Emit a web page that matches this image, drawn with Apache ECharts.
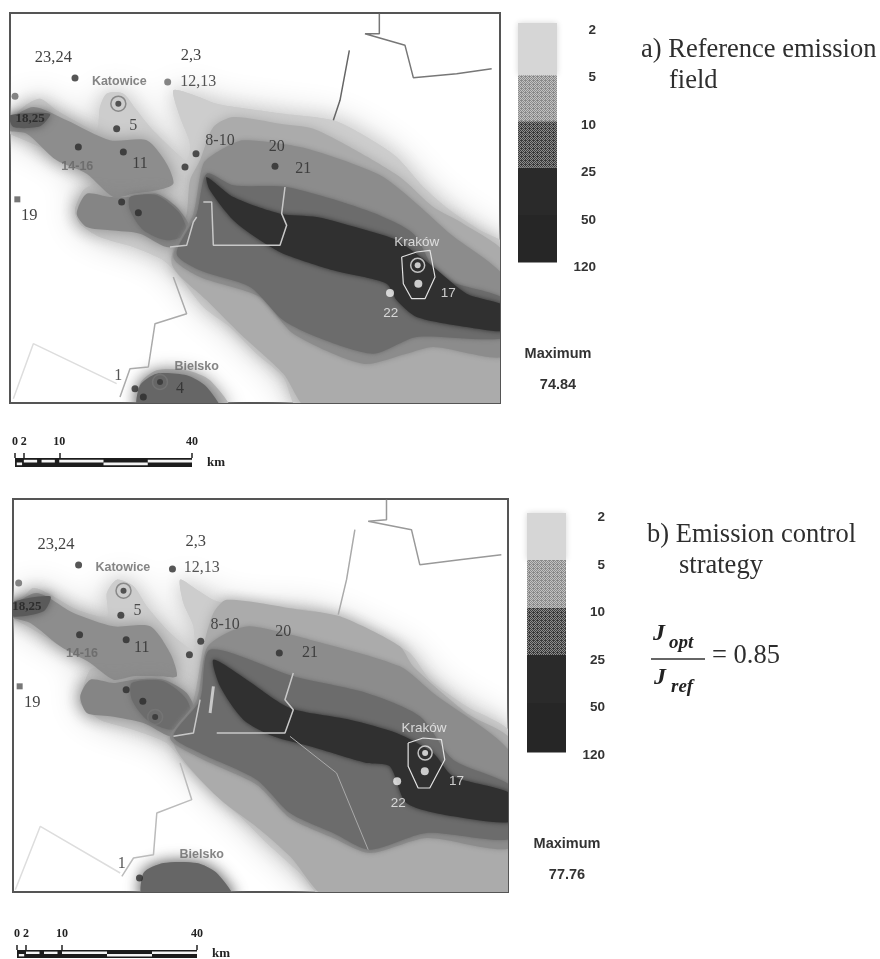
<!DOCTYPE html>
<html><head><meta charset="utf-8">
<style>html,body{margin:0;padding:0;background:#fff}#c{width:880px;height:959px;filter:blur(0.6px)}</style>
<script src="https://cdn.jsdelivr.net/npm/echarts@6/dist/echarts.min.js"></script>
</head><body><div id="c"></div>
<script>
// ---------- DATA (map units) ----------
const legendTicks = ['2','5','10','25','50','120'];
const scaleTicks = [0,2,10,40];
const titleA = 'a) Reference emission', titleA2 = 'field';
const titleB = 'b) Emission control', titleB2 = 'strategy';
const maxA = '74.84', maxB = '77.76', ratioValue = '= 0.85';

// contour bands, panel a
const a_outer = [[20,378],[70,320],[120,295],[170,330],[240,370],[290,390],[300,320],[320,280],[370,280],[410,330],[450,380],[510,440],[560,480],[570,430],[540,350],[520,270],[570,280],[650,310],[740,325],[850,340],[1000,360],[1100,410],[1190,470],[1270,560],[1350,630],[1440,690],[1520,740],[1520,1230],[900,1230],[850,1130],[770,1060],[690,980],[610,920],[540,830],[490,780],[400,740],[300,710],[240,670],[225,630],[250,570],[290,540],[200,490],[120,440],[20,395]];
const a_blobBase = [[420,1230],[420,1150],[470,1110],[560,1110],[630,1140],[690,1230]];
const a_band2 = [[600,480],[640,380],[700,350],[840,370],[940,385],[1050,440],[1200,530],[1300,620],[1390,670],[1520,770],[1520,1230],[930,1230],[850,1120],[720,1000],[620,900],[515,790],[560,640],[570,540]];
const a_band3 = [[610,490],[660,450],[730,420],[900,440],[1030,480],[1150,530],[1250,610],[1350,700],[1520,840],[1520,1065],[1300,1040],[1220,1060],[1090,1090],[880,1000],[780,890],[600,830],[520,770],[580,640]];
const a_band4 = [[620,520],[700,555],[860,560],[1100,630],[1240,700],[1320,830],[1520,900],[1520,1010],[1250,1010],[1120,1060],[950,1010],[850,960],[750,860],[600,810],[530,760],[590,640]];
const a_core = [[620,530],[700,590],[840,640],[950,650],[1100,690],[1190,720],[1300,800],[1400,880],[1520,920],[1520,990],[1400,980],[1250,950],[1190,900],[1160,850],[1000,810],[850,760],[780,720],[700,660],[630,570]];
const a_plume = [[20,365],[100,320],[200,360],[330,420],[440,420],[500,490],[520,550],[470,570],[400,580],[340,590],[260,520],[170,480],[80,400],[20,390]];
const a_lobe = [[230,640],[260,580],[330,590],[390,590],[470,580],[530,620],[570,680],[560,730],[500,740],[420,700],[330,690],[260,680]];
const a_lobeCore = [[390,590],[470,585],[540,640],[560,700],[500,720],[430,690],[390,630]];
const a_smudge = [[30,345],[150,340],[120,378],[40,380]];
const a_bielsko = [[415,1230],[420,1155],[470,1120],[560,1125],[620,1160],[660,1230]];

// contour bands, panel b
const b_outer = [[25,375],[70,350],[100,325],[150,345],[230,390],[320,410],[320,340],[350,300],[400,320],[440,380],[510,460],[580,510],[580,440],[550,370],[540,300],[590,330],[650,365],[760,385],[920,390],[1030,420],[1130,470],[1230,520],[1290,600],[1400,680],[1540,770],[1540,1260],[980,1260],[900,1180],[800,1090],[720,1010],[640,940],[560,860],[500,790],[400,750],[300,720],[240,670],[250,620],[270,570],[300,560],[200,510],[100,450],[25,405]];
const b_band2 = [[610,500],[640,400],[680,360],[900,390],[1020,410],[1200,500],[1240,560],[1400,700],[1540,790],[1540,1260],[990,1260],[870,1130],[780,1050],[650,950],[520,790],[580,660]];
const b_band3 = [[620,505],[680,460],[750,440],[930,480],[1200,560],[1300,640],[1540,830],[1540,1100],[1280,1075],[1110,1120],[1000,1075],[870,1015],[770,915],[600,835],[510,775],[590,660]];
const b_band4 = [[630,510],[880,590],[1100,640],[1260,710],[1360,840],[1540,925],[1540,1075],[1280,1060],[1110,1110],[1000,1060],[870,1000],[770,900],[600,820],[520,770],[600,660]];
const b_core = [[640,540],[740,600],[870,685],[1050,720],[1190,760],[1300,820],[1360,890],[1540,945],[1540,1025],[1360,1010],[1220,970],[1170,860],[1100,850],[930,800],[820,770],[730,720],[660,620]];
const b_plume = [[30,385],[110,340],[220,400],[340,440],[450,440],[510,520],[530,590],[480,590],[400,590],[340,600],[270,550],[180,500],[90,430],[30,410]];
const b_lobe = [[240,650],[270,600],[340,610],[400,600],[490,600],[560,640],[590,710],[570,760],[510,770],[430,730],[330,710],[260,700]];
const b_lobeCore = [[395,610],[490,605],[560,660],[575,730],[510,750],[440,720],[395,660]];
const b_smudge = [[30,370],[150,350],[130,395],[35,410]];
const b_bielsko = [[430,1260],[430,1180],[490,1150],[590,1150],[650,1180],[700,1260]];

// boundaries, panel a
const a_cityLine = [[510,740],[560,735],[580,665],[590,650]];
const a_cityLine2 = [[610,605],[635,605],[640,735],[840,735],[860,675],[845,640],[855,560]];
const a_borderTop = [[1138,40],[1138,100],[1095,100],[1215,135],[1240,232],[1370,220],[1475,205]];
const a_borderMid = [[1048,150],[1020,300],[1000,360]];
const a_borderLow = [[520,830],[560,940],[465,970],[445,1100],[390,1105],[360,1190]];
const a_borderLow2 = [[40,1195],[100,1030],[350,1150]];
const a_krakow = [[1205,770],[1210,850],[1235,895],[1275,895],[1305,830],[1290,750],[1250,755],[1205,770]];
// boundaries, panel b
const b_cityLine = [[520,770],[580,760],[600,660]];
const b_cityLine2 = [[650,760],[855,760],[880,690],[855,660],[880,580]];
const b_cityLine3 = [[640,620],[630,700]];
const b_borderTop = [[1160,60],[1160,120],[1105,125],[1235,150],[1260,255],[1380,240],[1505,225]];
const b_borderMid = [[1065,150],[1040,300],[1015,405]];
const b_borderLow = [[540,850],[575,960],[470,1000],[460,1125],[400,1135],[365,1190]];
const b_borderLow2 = [[45,1230],[120,1040],[360,1180]];
const b_krakowLine = [[870,770],[1010,880],[1105,1110]];
const b_krakow = [[1225,790],[1225,860],[1255,925],[1290,925],[1335,840],[1325,780],[1270,775],[1225,790]];

// sites
const a_darkSites = [[225,233],[350,385],[370,455],[235,440],[555,500],[588,460],[825,498],[365,605],[415,637],[405,1165],[430,1190]];
const a_greySites = [[503,245],[45,288]];
const a_squareSites = [[52,597]];
const a_ringSites = [[355,310],[480,1145]];
const a_whiteSites = [[1170,878],[1255,850]];
const a_whiteRings = [[1253,795]];
const b_darkSites = [[235,256],[517,268],[362,407],[378,480],[238,465],[568,525],[602,485],[838,520],[378,630],[428,665],[418,1195]];
const b_greySites = [[55,310]];
const b_squareSites = [[58,620]];
const b_ringSites = [[370,333],[465,712]];
const b_whiteSites = [[1192,905],[1275,875]];
const b_whiteRings = [[1276,820]];

// labels
const a_textDark = [['23,24',160,172],['2,3',573,165],['19',88,645]];
const a_textDark2 = [['12,13',595,243],['8-10',660,420],['20',830,438],['21',910,505],['5',400,375],['11',420,490],['1',355,1125],['4',540,1165]];
const a_textGrey = [['Katowice',358,243],['14-16',232,500],['Bielsko',590,1098]];
const a_textSmudge = [['18,25',90,355]];
const a_textWhite = [['Kraków',1250,725],['17',1345,880],['22',1172,940]];
const b_textDark = [['23,24',167,195],['2,3',587,187],['19',96,668]];
const b_textDark2 = [['12,13',605,265],['8-10',675,435],['20',850,457],['21',930,520],['5',412,393],['11',425,505],['1',365,1152]];
const b_textGrey = [['Katowice',368,263],['14-16',245,522],['Bielsko',605,1125]];
const b_textSmudge = [['18,25',80,380]];
const b_textWhite = [['Kraków',1273,745],['17',1370,905],['22',1195,970]];

// legend band edges on the tick scale
const legendA = [[-0.15,0.95],[0.95,1.92],[1.92,2.9],[2.9,3.9],[3.9,4.9]];
const legendB = [[-0.1,0.89],[0.89,1.9],[1.9,2.89],[2.89,3.9],[3.9,4.94]];

// scale bar stripes in km
const scaleBody = [[0,40,0,1]];
const scaleWhite = [[10,20,0.2,0.5],[30,40,0.2,0.5],[20,30,0.5,0.8],[2,5,0.2,0.5],[6,9,0.2,0.5],[0.4,1.6,0.5,0.8]];

// ---------- CHART ----------
function dither(fg,bg){
  const c=document.createElement('canvas');c.width=c.height=4;
  const x=c.getContext('2d');x.fillStyle=bg;x.fillRect(0,0,4,4);x.fillStyle=fg;
  [[0,0],[2,0],[1,1],[3,1],[0,2],[2,2],[1,3],[3,3],[1,0]].forEach(p=>x.fillRect(p[0],p[1],1,1));
  return {image:c,repeat:'repeat'};
}
const grids=[],xs=[],ys=[],series=[];
function addAxes(grid,x,y){grids.push(grid);const i=grids.length-1;x.gridIndex=i;y.gridIndex=i;xs.push(x);ys.push(y);return i;}
const hidden=(min,max,inv)=>({type:'value',min,max,inverse:!!inv,show:false});

function poly(g,pts,fill,blur){
  series.push({type:'custom',xAxisIndex:g,yAxisIndex:g,clip:true,silent:true,data:pts,encode:{x:0,y:1},
    renderItem:(p,api)=>{
      if(p.dataIndex!==0)return;
      return {type:'polygon',shape:{points:pts.map(q=>api.coord(q)),smooth:0.25},
        style:{fill,shadowBlur:blur||0,shadowColor:blur?fill:'transparent'}};
    }});
}
function line(g,pts,color,width,dash){
  series.push({type:'line',xAxisIndex:g,yAxisIndex:g,data:pts,symbol:'none',silent:true,clip:true,
    lineStyle:{color,width,type:dash||'solid'}});
}
function sites(g,pts,symbol,size,color,ring){
  series.push({type:'scatter',xAxisIndex:g,yAxisIndex:g,data:pts,symbol,symbolSize:size,silent:true,
    itemStyle:ring?{color:'transparent',borderColor:color,borderWidth:1.5}:{color}});
}
function texts(g,rows,font,size,weight,color){
  series.push({type:'scatter',xAxisIndex:g,yAxisIndex:g,symbolSize:0,silent:true,clip:false,
    data:rows.map(r=>({name:r[0],value:[r[1],r[2]]})),
    label:{show:true,position:'inside',formatter:'{b}',fontFamily:font,fontSize:size,fontWeight:weight,color}});
}

function map(box,xr,yr,d){
  const g=addAxes({left:box[0],top:box[1],width:box[2],height:box[3],show:true,borderColor:'#555',borderWidth:2,backgroundColor:'#fff',z:1},
    hidden(xr[0],xr[1]),hidden(yr[0],yr[1],true));
  d.borders.forEach(b=>line(g,b[0],b[1],b[2]));
  poly(g,d.outer,'#cdcdcd',34);
  poly(g,d.outer,'#cdcdcd',16);
  poly(g,d.bielskoBase,'#bdbdbd',18);
  poly(g,d.band2,'#ababab',12);
  poly(g,d.plume,'#8d8d8d',16);
  poly(g,d.lobe,'#858585',16);
  poly(g,d.lobeCore,'#6c6c6c',6);
  poly(g,d.smudge,'#5a5a5a',8);
  poly(g,d.bielsko,'#666666',14);
  poly(g,d.band3,'#8c8c8c',5);
  poly(g,d.band4,'#6c6c6c',4);
  poly(g,d.core,'#303030',5);
  d.inner.forEach(b=>line(g,b[0],b[1],b[2],b[3]));
  sites(g,d.dark,'circle',7,'#2c2c2c');
  sites(g,d.grey,'circle',7,'#666');
  sites(g,d.square,'rect',6,'#555');
  sites(g,d.ring,'circle',15,'#777',true);
  sites(g,d.ring,'circle',6,'#333');
  sites(g,d.white,'circle',8,'#f4f4f4');
  sites(g,d.whiteRing,'circle',14,'#e6e6e6',true);
  sites(g,d.whiteRing,'circle',6,'#f4f4f4');
  texts(g,d.t1,'Liberation Serif',16.5,'normal','#111');
  texts(g,d.t2,'Liberation Serif',16,'normal','#2a2a2a');
  texts(g,d.t3,'Liberation Sans',12.5,'bold','#666');
  texts(g,d.t4,'Liberation Serif',13,'bold','#222');
  texts(g,d.t5,'Liberation Sans',13.5,'normal','#f2f2f2');
}
map([10,13,490,390],[30,1500],[38,1208],{
  outer:a_outer,bielskoBase:a_blobBase,band2:a_band2,band3:a_band3,band4:a_band4,core:a_core,plume:a_plume,lobe:a_lobe,lobeCore:a_lobeCore,smudge:a_smudge,bielsko:a_bielsko,
  borders:[[a_borderTop,'#777',1.5],[a_borderMid,'#666',1.5],[a_borderLow,'#aaa',1.5],[a_borderLow2,'#ddd',1.5]],
  inner:[[a_cityLine,'#c8c8c8',1.5],[a_cityLine2,'#c8c8c8',1.5],[a_krakow,'#e2e2e2',1.2]],
  dark:a_darkSites,grey:a_greySites,square:a_squareSites,ring:a_ringSites,white:a_whiteSites,whiteRing:a_whiteRings,
  t1:a_textDark,t2:a_textDark2,t3:a_textGrey,t4:a_textSmudge,t5:a_textWhite});
map([13,499,495,393],[38,1525],[58,1237],{
  outer:b_outer,bielskoBase:b_bielsko,band2:b_band2,band3:b_band3,band4:b_band4,core:b_core,plume:b_plume,lobe:b_lobe,lobeCore:b_lobeCore,smudge:b_smudge,bielsko:b_bielsko,
  borders:[[b_borderTop,'#999',1.5],[b_borderMid,'#aaa',1.5],[b_borderLow,'#bbb',1.5],[b_borderLow2,'#ddd',1.5]],
  inner:[[b_cityLine,'#c8c8c8',1.5],[b_cityLine2,'#c8c8c8',1.5],[b_cityLine3,'#c8c8c8',3],[b_krakowLine,'#aaa',1],[b_krakow,'#e2e2e2',1.2]],
  dark:b_darkSites,grey:b_greySites,square:b_squareSites,ring:b_ringSites,white:b_whiteSites,whiteRing:b_whiteRings,
  t1:b_textDark,t2:b_textDark2,t3:b_textGrey,t4:b_textSmudge,t5:b_textWhite});

// colour legends
const bandFill=[null,null,null,'#2a2a2a','#262626'];
function legend(left,top,height,vmin,vmax,labelRight,edges){
  const g=addAxes({left,top,width:39,height,show:false},hidden(0,1),
    {type:'value',min:vmin,max:vmax,inverse:true,position:'right',axisLine:{show:false},axisTick:{show:false},splitLine:{show:false},
     axisLabel:{customValues:[0,1,2,3,4,5],formatter:v=>legendTicks[Math.round(v)]||'',align:'right',margin:labelRight,fontFamily:'Liberation Sans',fontSize:13.5,fontWeight:'bold',color:'#333',showMinLabel:true,showMaxLabel:true}});
  const fills=['#d6d6d6',dither('#8a8a8a','#c2c2c2'),dither('#3a3a3a','#8c8c8c'),bandFill[3],bandFill[4]];
  series.push({type:'custom',xAxisIndex:g,yAxisIndex:g,silent:true,clip:false,data:edges,encode:{y:[0,1]},
    renderItem:(p,api)=>{
      const e=edges[p.dataIndex],a=api.coord([0,e[0]]),b=api.coord([1,e[1]]);
      return {type:'rect',shape:{x:a[0],y:a[1],width:b[0]-a[0],height:b[1]-a[1]},
        style:{fill:fills[p.dataIndex],shadowBlur:p.dataIndex?0:6,shadowColor:p.dataIndex?'transparent':'#d6d6d6'}};
    }});
}
legend(518,23,249,-0.15,5.1,39,legendA);
legend(527,513,247,-0.1,5.1,39,legendB);

// scale bars
function scale(left,top,width,height){
  const g=addAxes({left,top,width,height,show:false},
    {type:'value',min:0,max:40,position:'top',splitLine:{show:false},axisLine:{show:false},
     axisTick:{show:true,customValues:scaleTicks,length:5,lineStyle:{color:'#222',width:1.5}},
     axisLabel:{customValues:scaleTicks,margin:10,fontFamily:'Liberation Serif',fontSize:12,fontWeight:'bold',color:'#222',showMinLabel:true,showMaxLabel:true}},
    hidden(0,1,true));
  [[scaleBody,'#1c1c1c'],[scaleWhite,'#f4f4f4']].forEach(([rows,fill])=>{
    series.push({type:'custom',xAxisIndex:g,yAxisIndex:g,silent:true,clip:false,data:rows,encode:{x:[0,1]},
      renderItem:(p,api)=>{
        const r=rows[p.dataIndex],a=api.coord([r[0],r[2]]),b=api.coord([r[1],r[3]]);
        return {type:'rect',shape:{x:a[0],y:a[1],width:b[0]-a[0],height:b[1]-a[1]},style:{fill}};
      }});
  });
}
scale(15,458,177,9);
scale(17,950,180,8);

const serif='Liberation Serif';
const T=(x,y,text,o)=>({type:'text',left:x,top:y,style:Object.assign({text,fontFamily:serif,fontSize:26.5,fill:'#2e2e2e'},o||{})});
const small={fontFamily:'Liberation Sans',fontSize:14.5,fontWeight:'bold',fill:'#333',textAlign:'center'};
const km={fontFamily:serif,fontSize:13,fontWeight:'bold',fill:'#222'};
const ital={fontStyle:'italic',fontWeight:'bold',fontSize:24,fill:'#222'};
const sub={fontStyle:'italic',fontWeight:'bold',fontSize:19,fill:'#222'};
const option={animation:false,backgroundColor:'#fff',grid:grids,xAxis:xs,yAxis:ys,series,
 graphic:[
  T(641,37,titleA),T(669,68,titleA2),T(647,522,titleB),T(679,553,titleB2),
  T(207,456,'km',km),T(212,947,'km',km),
  {type:'text',x:558,y:346,style:Object.assign({text:'Maximum'},small)},
  {type:'text',x:558,y:377,style:Object.assign({text:maxA},small)},
  {type:'text',x:567,y:836,style:Object.assign({text:'Maximum'},small)},
  {type:'text',x:567,y:867,style:Object.assign({text:maxB},small)},
  T(653,622,'J',ital),T(669,634,'opt',sub),
  {type:'line',shape:{x1:651,y1:659,x2:705,y2:659},style:{stroke:'#333',lineWidth:1.3}},
  T(654,666,'J',ital),T(671,678,'ref',sub),
  T(712,643,ratioValue)
 ]};
echarts.init(document.getElementById('c'),null,{renderer:'canvas'}).setOption(option);
</script></body></html>
